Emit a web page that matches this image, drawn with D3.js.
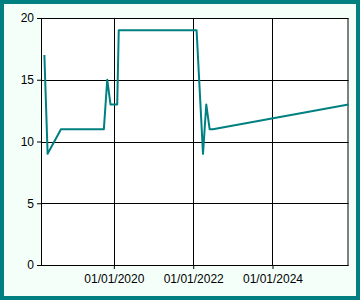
<!DOCTYPE html>
<html>
<head>
<meta charset="utf-8">
<script src="https://cdn.jsdelivr.net/npm/d3@7"></script>
<style>
  html, body { margin: 0; padding: 0; }
  body { width: 360px; height: 300px; overflow: hidden; }
  #chart { width: 360px; height: 300px; }
</style>
</head>
<body>
<div id="chart"></div>
<script>
// series values
const dates = [
  "2018-04-01", "2018-05-01", "2018-09-01", "2019-10-01", "2019-11-01",
  "2019-12-01", "2020-02-01", "2020-02-15", "2022-02-01", "2022-04-01",
  "2022-05-01", "2022-06-01", "2022-07-01", "2025-12-01"
];
const values = [17, 9, 11, 11, 15, 13, 13, 19, 19, 9, 13, 11, 11, 13];

const yTicks = [0, 5, 10, 15, 20];
const xTicks = ["2020-01-01", "2022-01-01", "2024-01-01"];
const xDomain = ["2018-03-01", "2025-12-01"];

const parse = d3.timeParse("%Y-%m-%d");
const fmt = d3.timeFormat("%m/%d/%Y");
const data = dates.map((d, i) => ({ t: parse(d), v: values[i] }));

const width = 360, height = 300;
const margin = { top: 18, right: 11.5, bottom: 35, left: 41 };
const innerW = width - margin.left - margin.right;
const innerH = height - margin.top - margin.bottom;

const svg = d3.select("#chart").append("svg")
  .attr("width", width)
  .attr("height", height);

// outer frame
svg.append("rect")
  .attr("x", 2).attr("y", 2)
  .attr("width", width - 4).attr("height", height - 4)
  .attr("fill", "#f5fffa")
  .attr("stroke", "#008080")
  .attr("stroke-width", 4);

const g = svg.append("g").attr("transform", `translate(${margin.left},${margin.top})`);

const x = d3.scaleTime().domain(xDomain.map(parse)).range([0, innerW]);
const y = d3.scaleLinear().domain([0, 20]).range([innerH, 0]);

g.append("rect")
  .attr("width", innerW).attr("height", innerH)
  .attr("fill", "#fff");

// grid
g.append("g")
  .selectAll("line.h")
  .data(yTicks)
  .join("line")
  .attr("x1", 0).attr("x2", innerW)
  .attr("y1", d => Math.round(y(d)) + 0.5).attr("y2", d => Math.round(y(d)) + 0.5)
  .attr("stroke", "#000");

g.append("g")
  .selectAll("line.v")
  .data(xTicks.map(parse))
  .join("line")
  .attr("x1", d => Math.round(x(d)) + 0.5).attr("x2", d => Math.round(x(d)) + 0.5)
  .attr("y1", 0).attr("y2", innerH)
  .attr("stroke", "#000");

// axes
const xAxisG = g.append("g")
  .attr("transform", `translate(0,${innerH})`)
  .call(d3.axisBottom(x).tickValues(xTicks.map(parse)).tickFormat(fmt).tickSize(4).tickSizeOuter(0));

const yAxisG = g.append("g")
  .call(d3.axisLeft(y).tickValues(yTicks).tickSize(4).tickSizeOuter(0));

[xAxisG, yAxisG].forEach(a => {
  a.attr("font-family", "'Liberation Sans', Arial, sans-serif").attr("font-size", 12);
  a.select(".domain").remove();
  a.selectAll(".tick line").attr("stroke", "#000");
  a.selectAll(".tick text").attr("fill", "#000");
});
xAxisG.selectAll(".tick text").attr("dy", "0.9em");

// plot border
g.append("rect")
  .attr("x", 0.5).attr("y", 0.5)
  .attr("width", innerW - 1).attr("height", innerH)
  .attr("fill", "none")
  .attr("stroke", "#000");

// series line
const line = d3.line()
  .x(d => x(d.t))
  .y(d => y(d.v));

g.append("path")
  .datum(data)
  .attr("fill", "none")
  .attr("stroke", "#008080")
  .attr("stroke-width", 2)
  .attr("stroke-linejoin", "round")
  .attr("d", line);
</script>
</body>
</html>
